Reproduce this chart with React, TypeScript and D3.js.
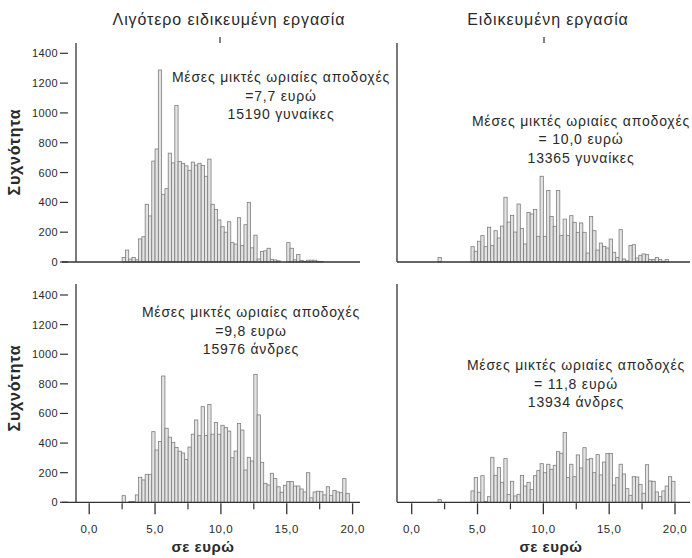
import React from "react";
import * as d3 from "d3";

const W = 692;
const H = 558;
const FONT = "'Liberation Sans', Arial, sans-serif";

// histogram bin width (euro)
const BIN = 0.25;

const xMajorTicks = [0, 5, 10, 15, 20];
const xMinorTicks = [2.5, 7.5, 12.5, 17.5];
const yTicks = [0, 200, 400, 600, 800, 1000, 1200, 1400];

const columnTitles = ["Λιγότερο ειδικευμένη εργασία", "Ειδικευμένη εργασία"];
const yTitle = "Συχνότητα";
const xTitle = "σε ευρώ";

// women, less skilled work — counts per 0.25 € bin starting at 2.5 €
const womenLowStart = 2.5;
const womenLow = [
  30, 80, 20, 30, 15, 155, 170, 387, 309, 677, 758, 1288, 454, 492, 730, 665,
  1050, 675, 662, 645, 615, 670, 650, 662, 648, 575, 690, 387, 353, 282, 237,
  200, 270, 130, 120, 297, 110, 250, 400, 95, 180, 20, 70, 75, 92, 18, 14, 8,
  0, 0, 130, 92, 15, 50, 10, 5, 12, 12, 12, 5, 3,
];

// women, skilled work — starting at 2.0 €
const womenHighStart = 2.0;
const womenHigh = [
  30, 0, 0, 0, 0, 0, 0, 0, 0, 0, 103, 72, 139, 177, 103, 233, 110, 210, 161,
  241, 434, 268, 313, 201, 389, 224, 121, 333, 322, 353, 172, 575, 172, 479,
  306, 239, 479, 177, 288, 177, 311, 266, 199, 262, 199, 60, 306, 210, 80, 127,
  105, 94, 154, 65, 31, 217, 20, 8, 110, 116, 27, 45, 54, 49, 16, 16, 31, 16,
  5, 16,
];

// men, less skilled work — starting at 2.5 €
const menLowStart = 2.5;
const menLow = [
  45, 0, 5, 5, 50, 169, 151, 189, 189, 477, 353, 410, 853, 500, 440, 405, 370,
  345, 333, 290, 373, 460, 556, 450, 646, 452, 661, 460, 540, 460, 520, 505,
  481, 301, 346, 533, 488, 218, 304, 279, 864, 590, 270, 128, 117, 196, 160,
  105, 68, 115, 140, 140, 110, 110, 90, 70, 200, 30, 70, 75, 72, 50, 105, 45,
  80, 70, 65, 160, 60,
];

// men, skilled work — starting at 2.0 €
const menHighStart = 2.0;
const menHigh = [
  18, 0, 0, 0, 0, 0, 0, 0, 0, 0, 77, 167, 68, 180, 5, 38, 304, 182, 236, 135,
  295, 52, 142, 43, 54, 182, 110, 135, 86, 180, 214, 261, 200, 257, 223, 250,
  342, 331, 472, 167, 257, 173, 320, 232, 369, 290, 295, 200, 322, 185, 272,
  329, 329, 117, 167, 257, 191, 92, 47, 173, 171, 120, 61, 254, 144, 142, 70,
  38, 77, 110, 173, 142,
];

const notes = [
  ["Μέσες μικτές ωριαίες αποδοχές", "=7,7 ευρώ", "15190 γυναίκες"],
  ["Μέσες μικτές ωριαίες αποδοχές", "= 10,0 ευρώ", "13365 γυναίκες"],
  ["Μέσες μικτές ωριαίες αποδοχές", "=9,8 ευρω", "15976 άνδρες"],
  ["Μέσες μικτές ωριαίες αποδοχές", "= 11,8 ευρώ", "13934 άνδρες"],
];

type Col = {
  axisX: number;
  x0: number;
  x1: number;
  lineStart: number;
  lineEnd: number;
  titleX: number;
  markX: number;
  xTitleX: number;
};

const cols: Col[] = [
  { axisX: 76, x0: 89.2, x1: 352.6, lineStart: 62, lineEnd: 360, titleX: 229, markX: 220, xTitleX: 203 },
  { axisX: 397, x0: 411.7, x1: 675, lineStart: 397, lineEnd: 690, titleX: 548, markX: 544, xTitleX: 551 },
];

const rows = [
  { base: 262, top1400: 53.3, axisTop: 43, yTitleY: 152 },
  { base: 502.3, top1400: 295, axisTop: 284, yTitleY: 388 },
];

const panels = [
  { row: 0, col: 0, start: womenLowStart, counts: womenLow, note: notes[0], noteX: 281, noteY: 82 },
  { row: 0, col: 1, start: womenHighStart, counts: womenHigh, note: notes[1], noteX: 581, noteY: 125.5 },
  { row: 1, col: 0, start: menLowStart, counts: menLow, note: notes[2], noteX: 251, noteY: 317 },
  { row: 1, col: 1, start: menHighStart, counts: menHigh, note: notes[3], noteX: 576, noteY: 370 },
];

const AXIS = "#333";
const INK = "#2a2a2a";

function Panel({ p }: { p: (typeof panels)[number] }) {
  const c = cols[p.col];
  const r = rows[p.row];
  const x = d3.scaleLinear().domain([0, 20]).range([c.x0, c.x1]);
  const y = d3.scaleLinear().domain([0, 1400]).range([r.base, r.top1400]);
  const bins = p.counts.map((n, i) => ({ lo: p.start + i * BIN, n }));
  return (
    <g>
      {bins
        .filter((b) => b.n > 0)
        .map((b, i) => (
          <rect
            key={i}
            x={x(b.lo)}
            y={y(b.n)}
            width={x(b.lo + BIN) - x(b.lo)}
            height={y(0) - y(b.n)}
            fill="#e3e3e3"
            stroke="#7d7d7d"
            strokeWidth={0.8}
          />
        ))}
      {/* y axis line */}
      <line x1={c.axisX} x2={c.axisX} y1={r.axisTop} y2={r.base} stroke={AXIS} strokeWidth={1.3} />
      {/* baseline */}
      <line x1={c.lineStart} x2={c.lineEnd} y1={r.base} y2={r.base} stroke={AXIS} strokeWidth={1.3} />
      {p.col === 0 &&
        yTicks.map((t) => (
          <g key={t}>
            <line x1={60} x2={68} y1={y(t)} y2={y(t)} stroke={AXIS} strokeWidth={1.2} />
            <text x={58} y={y(t)} dy="0.36em" textAnchor="end" fontSize={11} letterSpacing={0.4} fill={INK}>
              {t}
            </text>
          </g>
        ))}
      {p.row === 1 && (
        <g>
          {xMajorTicks.map((t) => (
            <g key={t}>
              <line x1={x(t)} x2={x(t)} y1={r.base + 1} y2={r.base + 12} stroke={AXIS} strokeWidth={1.3} />
              <text x={x(t)} y={r.base + 31} textAnchor="middle" fontSize={11.5} letterSpacing={0.5} fill={INK}>
                {d3.format(".1f")(t).replace(".", ",")}
              </text>
            </g>
          ))}
          {xMinorTicks.map((t) => (
            <line key={t} x1={x(t)} x2={x(t)} y1={r.base + 1} y2={r.base + 7} stroke={AXIS} strokeWidth={1.2} />
          ))}
        </g>
      )}
      {p.note.map((line, i) => (
        <text
          key={i}
          x={p.noteX}
          y={p.noteY + i * 18.5}
          textAnchor="middle"
          fontSize={14}
          letterSpacing={0.8}
          fill={INK}
        >
          {line}
        </text>
      ))}
    </g>
  );
}

export default function App() {
  return (
    <svg width={W} height={H} style={{ display: "block", position: "absolute", left: 0, top: 0, fontFamily: FONT }}>
      <rect width={W} height={H} fill="#fff" />
      {cols.map((c, i) => (
        <g key={i}>
          <text x={c.titleX} y={25} textAnchor="middle" fontSize={16} letterSpacing={0.9} fill={INK}>
            {columnTitles[i]}
          </text>
          <line x1={c.markX} x2={c.markX} y1={37} y2={43} stroke={AXIS} strokeWidth={1.2} />
          <text x={c.xTitleX} y={552} textAnchor="middle" fontSize={15} fontWeight="bold" letterSpacing={0.5} fill={INK}>
            {xTitle}
          </text>
        </g>
      ))}
      {rows.map((r, i) => (
        <text
          key={i}
          transform={`translate(20,${r.yTitleY}) rotate(-90)`}
          textAnchor="middle"
          fontSize={16}
          fontWeight="bold"
          letterSpacing={0.8}
          fill={INK}
        >
          {yTitle}
        </text>
      ))}
      {panels.map((p, i) => (
        <Panel key={i} p={p} />
      ))}
    </svg>
  );
}
